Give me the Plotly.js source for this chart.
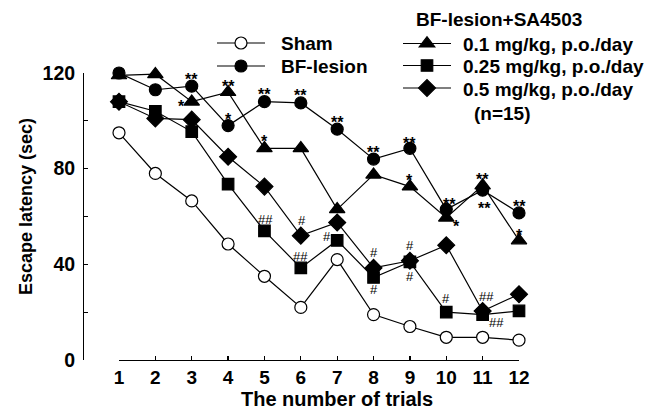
<!DOCTYPE html>
<html><head><meta charset="utf-8">
<script src="https://cdn.plot.ly/plotly-3.0.1.min.js"></script>
<style>html,body{margin:0;padding:0;background:#fff}</style>
</head><body><div id="chart" style="width:652px;height:411px"></div>
<script>
// ---- data ----
const trials = [1, 2, 3, 4, 5, 6, 7, 8, 9, 10, 11, 12];
const sham = [95, 78, 66.5, 48.5, 35, 22, 42, 19, 14, 9.5, 9.5, 8.3];
const bfLesion = [120, 113, 114.5, 98, 108, 107.5, 96.5, 84, 88.5, 63, 71, 61.5];
const dose01 = [119, 119.5, 108, 112, 88.5, 88.5, 63, 77.5, 72.5, 59.5, 73, 50];
const dose025 = [108, 104, 95.5, 73.5, 54, 38.5, 50, 34.5, 41, 20, 19, 20.5];
const dose05 = [108, 101, 100.5, 85, 72.5, 52, 57.5, 38.5, 41.5, 48, 20.5, 27.5];
const seriesNames = ['Sham', 'BF-lesion', '0.1 mg/kg, p.o./day', '0.25 mg/kg, p.o./day', '0.5 mg/kg, p.o./day'];
const groupTitle = 'BF-lesion+SA4503';
const nNote = '(n=15)';
const xTitle = 'The number of trials';
const yTitle = 'Escape latency (sec)';
const yTickVals = [0, 20, 40, 60, 80, 100, 120];
const yTickText = ['0', '', '40', '', '80', '', '120'];
// significance marks (* vs sham, # vs BF-lesion)
const bfSig   = ['', '', '**', '*', '**', '**', '**', '**', '**', '**', '**', '**'];
const d01Sig  = ['', '', '*', '**', '*', '', '', '', '*', '*', '**', '*'];
const d025Sig = ['', '', '', '', '##', '##', '#', '#', '#', '#', '##', ''];
const d05Sig  = ['', '', '', '', '', '#', '', '#', '#', '', '##', ''];

// ---- styling / placement ----
const FONT = 'Liberation Sans, Arial, Helvetica, sans-serif';
const M = {l: 83, r: 133, t: 73, b: 51};
const PW = 652 - M.l - M.r, PH = 411 - M.t - M.b;
const px = v => (v - M.l) / PW;          // pixel -> paper x
const py = v => (411 - M.b - v) / PH;    // pixel -> paper y
const lineStyle = {color: '#000', width: 1.2};
const sym = {
  sham: {symbol: 'circle', size: 12, color: '#fff'},
  bf: {symbol: 'circle', size: 12, color: '#000'},
  d01: {symbol: 'triangle-up', size: 13.5, color: '#000'},
  d025: {symbol: 'square', size: 11.5, color: '#000'},
  d05: {symbol: 'diamond', size: 13, color: '#000'}
};
function tr(name, y, s) {
  return {
    x: trials, y: y, name: name, type: 'scatter', mode: 'lines+markers',
    line: lineStyle, cliponaxis: false, showlegend: false,
    marker: {symbol: s.symbol, size: s.size, color: s.color, line: {color: '#000', width: 1.2}}
  };
}
const data = [
  tr(seriesNames[0], sham, sym.sham),
  tr(seriesNames[2], dose01, sym.d01),
  tr(seriesNames[3], dose025, sym.d025),
  tr(seriesNames[4], dose05, sym.d05),
  tr(seriesNames[1], bfLesion, sym.bf)
];

// offsets (screen px, dy downward) of each mark from its point
const sigSets = [
  {y: bfLesion, t: bfSig, def: [0, -11], off: {3: [0, -10], 8: [0, -9], 9: [3, -9], 10: [2, 14], 11: [0, -10]}},
  {y: dose01, t: d01Sig, def: [0, -10], off: {2: [-10, 1], 4: [0, -11], 9: [10, 5], 11: [0, -9]}},
  {y: dose025, t: d025Sig, def: [0, -11], off: {4: [1, -11], 6: [-10, -4], 7: [0, 12], 8: [0, 15], 9: [0, -14], 10: [14, 8]}},
  {y: dose05, t: d05Sig, def: [0, -15], off: {5: [1, -15], 10: [4, -14]}}
];
const annotations = [];
sigSets.forEach(s => {
  s.t.forEach((t, i) => {
    if (!t) return;
    const o = s.off[i] || s.def;
    const star = t.indexOf('*') >= 0;
    annotations.push({
      xref: 'x', yref: 'y', x: trials[i], y: s.y[i], text: t, showarrow: false,
      xanchor: 'center', yanchor: 'middle',
      xshift: o[0], yshift: -(o[1] + (star ? 4 : 0)),
      font: star ? {family: FONT, size: 16, weight: 'bold', color: '#000'} : {family: FONT, size: 13, color: '#000'}
    });
  });
});
const LF = {family: FONT, size: 19, weight: 'bold', color: '#000'};
function txt(t, x, y, xa, ya, font, angle) {
  return {xref: 'paper', yref: 'paper', x: px(x), y: py(y), xanchor: xa || 'left', yanchor: ya || 'middle',
          showarrow: false, text: t, font: font || LF, textangle: angle || 0, borderpad: 0};
}
// manual legend (keys + labels)
const legendRows = [
  {name: seriesNames[0], s: sym.sham, lx: [217, 265], tx: 280, y: 43},
  {name: seriesNames[1], s: sym.bf, lx: [217, 265], tx: 280, y: 66},
  {name: seriesNames[2], s: sym.d01, lx: [403, 451], tx: 462, y: 43.5},
  {name: seriesNames[3], s: sym.d025, lx: [403, 451], tx: 462, y: 65.5},
  {name: seriesNames[4], s: sym.d05, lx: [403, 451], tx: 462, y: 88}
];
const shapes = [];
function keyShape(s, cx, cy) {
  const base = {xref: 'paper', yref: 'paper', xsizemode: 'pixel', ysizemode: 'pixel',
                xanchor: px(cx), yanchor: py(cy), fillcolor: s.color, line: {color: '#000', width: 1.2}};
  const r = s.size / 2;
  if (s.symbol === 'circle') return Object.assign(base, {type: 'circle', x0: -r, x1: r, y0: -r, y1: r});
  if (s.symbol === 'square') return Object.assign(base, {type: 'rect', x0: -r, x1: r, y0: -r, y1: r});
  if (s.symbol === 'diamond') {
    const d = r * 1.3;
    return Object.assign(base, {type: 'path', path: `M${d},0 L0,${d} L-${d},0 L0,-${d} Z`});
  }
  const rt = r * 2 / Math.sqrt(3);
  return Object.assign(base, {type: 'path', path: `M-${rt},-${r / 2} L${rt},-${r / 2} L0,${r} Z`});
}
legendRows.forEach(row => {
  shapes.push({type: 'line', xref: 'paper', yref: 'paper', x0: px(row.lx[0]), x1: px(row.lx[1]),
               y0: py(row.y), y1: py(row.y), line: {color: '#000', width: 1.2}});
  shapes.push(keyShape(row.s, (row.lx[0] + row.lx[1]) / 2, row.y));
  annotations.push(txt(row.name, row.tx, row.y + 1));
});
annotations.push(
  txt(groupTitle, 415, 20),
  txt(nNote, 473, 113),
  txt(xTitle, 337, 411, 'center', 'bottom', {family: FONT, size: 20, weight: 'bold', color: '#000'}),
  txt(yTitle, 26, 207, 'center', 'middle', {family: FONT, size: 18, weight: 'bold', color: '#000'}, -90)
);

const layout = {
  width: 652, height: 411,
  margin: {l: M.l, r: M.r, t: M.t, b: M.b, pad: 0, autoexpand: false},
  paper_bgcolor: '#fff', plot_bgcolor: '#fff',
  font: {family: FONT, color: '#000'},
  showlegend: false,
  xaxis: {
    domain: [36 / PW, 1], range: [1, 12], tickvals: trials, ticks: 'inside', ticklen: 4,
    tickcolor: '#000', tickwidth: 1.2, showline: true, linecolor: '#000', linewidth: 1.3,
    showgrid: false, zeroline: false, tickfont: {family: FONT, size: 19, weight: 'bold'}
  },
  yaxis: {
    range: [0, 120], anchor: 'free', position: 0, tickvals: yTickVals, ticktext: yTickText,
    ticks: 'inside', ticklen: 4, tickcolor: '#000', tickwidth: 1.2, ticklabelstandoff: 4,
    showline: true, linecolor: '#000', linewidth: 1.3, showgrid: false, zeroline: false,
    tickfont: {family: FONT, size: 19.5, weight: 'bold'}
  },
  shapes: shapes,
  annotations: annotations
};
Plotly.newPlot('chart', data, layout, {displayModeBar: false, staticPlot: true});
</script></body></html>
